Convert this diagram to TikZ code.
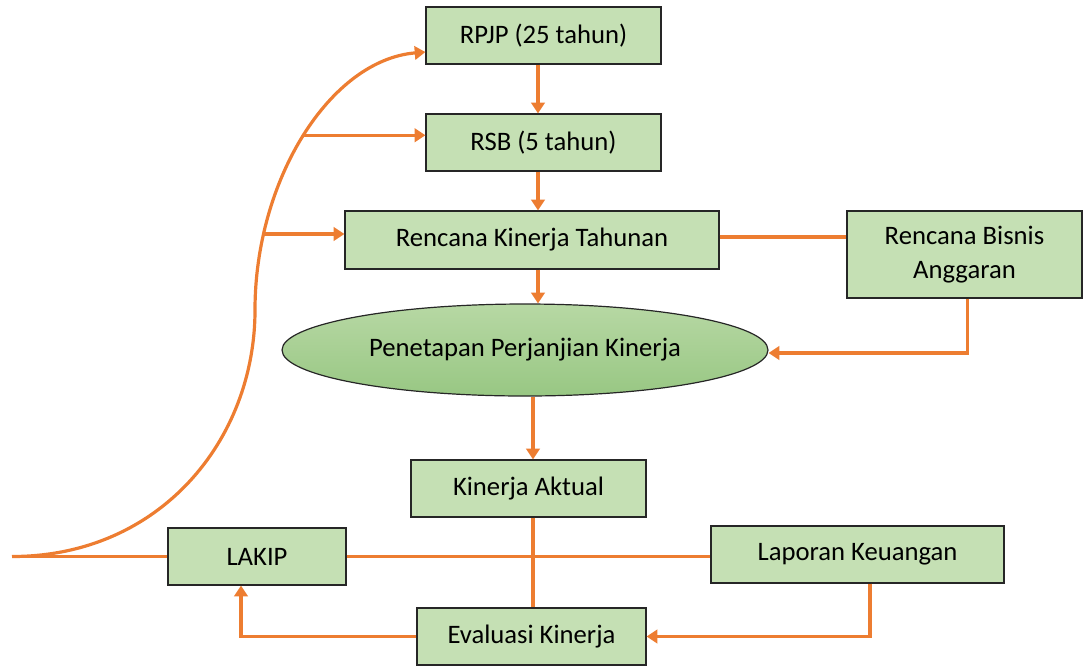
\documentclass[tikz,border=0pt]{standalone}
\usepackage{fontspec}
\setmainfont{Carlito}
\usetikzlibrary{arrows.meta,shapes.geometric}
\definecolor{flow}{HTML}{ED7D31}
\definecolor{boxfill}{HTML}{C5E0B4}
\definecolor{boxline}{HTML}{262626}
\definecolor{elltop}{HTML}{B7D8A4}
\definecolor{ellbot}{HTML}{98C783}
\tikzset{
  box/.style={rectangle, draw=boxline, line width=0.9pt, fill=boxfill,
    inner sep=0pt, font=\fontsize{20}{25}\selectfont, align=center},
  conn/.style={draw=flow, line width=2.4pt},
  arr/.style={conn, -{Triangle[length=8pt,width=10pt]}},
}
\begin{document}
\begin{tikzpicture}[x=0.75pt, y=-0.75pt]
\useasboundingbox (0,0) rectangle (1084,665);

% boxes
\node[box, minimum width=176.25pt, minimum height=42.75pt] (rpjp) at (543.5,35.5) {RPJP (25 tahun)};
\node[box, minimum width=176.25pt, minimum height=42.75pt] (rsb) at (543.5,142.5) {RSB (5 tahun)};
\node[box, minimum width=280.5pt, minimum height=43.5pt] (rkt) at (532,240) {Rencana Kinerja Tahunan};
\node[box, minimum width=176.25pt, minimum height=65.25pt] (rba) at (964.5,254.5) {Rencana Bisnis\\Anggaran};
\node[ellipse, draw=boxline, line width=0.9pt, top color=elltop, bottom color=ellbot,
  inner sep=0pt, minimum width=364.5pt, minimum height=69pt,
  font=\fontsize{20}{25}\selectfont] (ppk) at (525,350) {\raisebox{4pt}{Penetapan Perjanjian Kinerja}};
\node[box, minimum width=176.25pt, minimum height=42.75pt] (ka) at (528.5,488.5) {Kinerja Aktual};
\node[box, minimum width=133.5pt, minimum height=42.75pt] (lakip) at (257,556.5) {LAKIP};
\node[box, minimum width=219.75pt, minimum height=42.75pt] (lk) at (857.5,554.5) {Laporan Keuangan};
\node[box, minimum width=171.75pt, minimum height=42.75pt] (ek) at (531.5,636.5) {Evaluasi Kinerja};

% vertical chain
\draw[arr] ([xshift=-4.125pt]rpjp.south) -- ([xshift=-4.125pt]rsb.north);
\draw[arr] ([xshift=-4.125pt]rsb.south) -- ([xshift=-4.125pt]rsb.south |- rkt.north);
\draw[arr] ([xshift=4.5pt]rkt.south) -- ([xshift=4.5pt]rkt.south |- ppk.north);
\draw[arr] ([xshift=3.375pt]ka.north |- ppk.south) -- ([xshift=3.375pt]ka.north);
\draw[conn] ([xshift=3.375pt]ka.south) -- ([xshift=3.375pt]ka.south |- ek.north);

% side links
\draw[conn] ([yshift=2.25pt]rkt.east) -- ([yshift=2.25pt]rkt.east -| rba.west);
\draw[arr] ([xshift=2pt]rba.south) |- ([yshift=-2.25pt]ppk.east);
\draw[conn] (lakip.east) -- (lakip.east -| lk.west);
\draw[arr] ([xshift=9.4pt]lk.south) |- (ek.east);
\draw[arr] (ek.west) -| ([xshift=-12pt]lakip.south);

% feedback curve
\coordinate (start) at (12,556.5);
\draw[conn] (start) -- (lakip.west);
\draw[arr] (start) .. controls (160,556.5) and (255,440) .. (255,310)
  .. controls (255,180) and (330,60) .. ([yshift=-12.4pt]rpjp.west)
  coordinate[pos=0.2] (b1) coordinate[pos=0.5] (b2);
\draw[arr] (b1) -- (b1 -| rkt.west);
\draw[arr] (b2) -- (b2 -| rsb.west);
\end{tikzpicture}
\end{document}
